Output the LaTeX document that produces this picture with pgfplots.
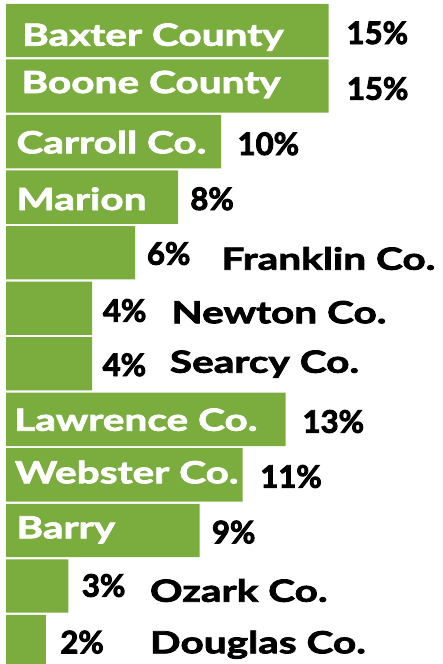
\documentclass[border=0pt]{standalone}
\usepackage{pgfplots}
\pgfplotsset{compat=1.18}
\usepackage{pgfplotstable}
\usepackage{fontspec}
\setmainfont{Lato}
\newfontfamily\namefont{Lato}[FakeStretch=1.33, BoldFeatures={FakeBold=2.5}]
\newfontfamily\pctfont{Lato}[BoldFeatures={FakeBold=3}]
\definecolor{barg}{RGB}{122,173,62}
\pgfplotstableread{
idx val
0 15
1 15
2 10
3 8
4 6
5 4
6 4
7 13
8 11
9 9
10 2.9
11 1.85
}\datatab
% #1 index, #2 x px (glyph left), #3 baseline offset below centre, #4 colour, #5 text
\newcommand{\lbl}[5]{\node[anchor=base west, inner sep=0pt, text=#4, font=\namefont\fontsize{30.5}{30.5}\selectfont\bfseries, xshift=#2pt-8pt, yshift=-#3pt] at (axis cs:0,#1) {#5};}
\newcommand{\pct}[4]{\node[anchor=base west, inner sep=0pt, text=black, font=\pctfont\fontsize{31}{31}\selectfont\bfseries, xshift=#2pt-7.5pt, yshift=-#3pt] at (axis cs:0,#1) {#4};}
\begin{document}
\begin{tikzpicture}
\begin{axis}[
  width=443pt, height=664pt, scale only axis,
  hide axis,
  xmin=-0.27907, xmax=20.32558,
  ymin=-0.54905, ymax=11.40414,
  y dir=reverse,
]
\addplot[xbar, fill=barg, draw=none, bar width=0.96] table[x=val, y=idx] {\datatab};
\lbl{0}{24}{15.2}{white}{Baxter County}
\lbl{1}{23.3}{7}{white}{Boone County}
\lbl{2}{18.3}{11.7}{white}{Carroll Co.}
\lbl{3}{18.3}{12.85}{white}{Marion}
\lbl{4}{223.3}{17}{black}{Franklin Co.}
\lbl{5}{173.3}{15}{black}{Newton Co.}
\lbl{6}{171.7}{8.9}{black}{Searcy Co.}
\lbl{7}{16}{11.35}{white}{Lawrence Co.}
\lbl{8}{16.7}{8.4}{white}{Webster Co.}
\lbl{9}{18.3}{7.85}{white}{Barry}
\lbl{10}{151.7}{15.7}{black}{Ozark Co.}
\lbl{11}{151.7}{11.75}{black}{Douglas Co.}
\pct{0}{348}{13.5}{15\%}
\pct{1}{348.3}{13.65}{15\%}
\pct{2}{239}{13.4}{10\%}
\pct{3}{191.7}{12.85}{8\%}
\pct{4}{148.3}{12}{6\%}
\pct{5}{104.3}{13.45}{4\%}
\pct{6}{104}{12.2}{4\%}
\pct{7}{304}{13.35}{13\%}
\pct{8}{261.7}{12.8}{11\%}
\pct{9}{213.3}{12.85}{9\%}
\pct{10}{83.3}{10.7}{3\%}
\pct{11}{61.7}{11.75}{2\%}
\end{axis}
\pgfresetboundingbox
\path[use as bounding box] (current axis.south west) rectangle (current axis.north east);
\end{tikzpicture}
\end{document}
